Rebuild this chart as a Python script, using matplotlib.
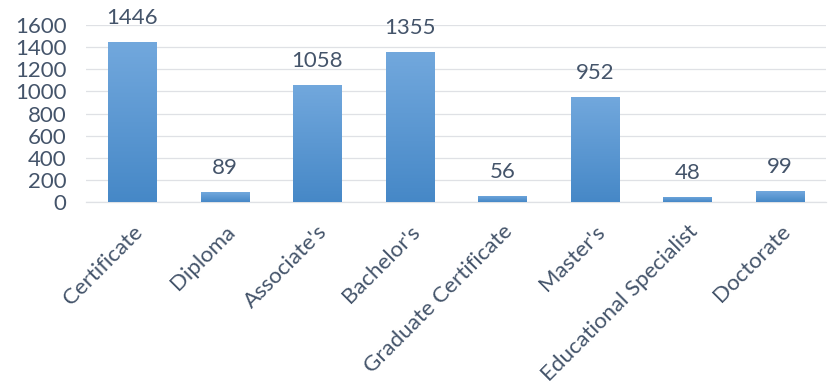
import matplotlib.pyplot as plt
import numpy as np
from matplotlib.colors import LinearSegmentedColormap

categories = ["Certificate", "Diploma", "Associate's", "Bachelor's",
              "Graduate Certificate", "Master's", "Educational Specialist", "Doctorate"]
counts = [1446, 89, 1058, 1355, 56, 952, 48, 99]

TEXT = "#44546a"
plt.rcParams["font.family"] = ["Lato", "DejaVu Sans"]

fig = plt.figure(figsize=(8.31, 3.84), dpi=100)
ax = fig.add_axes([86 / 831, 1 - 202 / 384, 740 / 831, 177 / 384])

x = np.arange(len(categories))
bars = ax.bar(x, counts, width=0.52, color="none", zorder=3)

# vertical gradient inside every bar, light at top and darker at bottom
cmap = LinearSegmentedColormap.from_list("bar", ["#4688c7", "#72a8dd"])
grad = np.linspace(0, 1, 256).reshape(-1, 1)
for b in bars:
    x0, y0, w, h = b.get_x(), b.get_y(), b.get_width(), b.get_height()
    im = ax.imshow(grad, cmap=cmap, origin="lower", aspect="auto",
                   extent=(x0, x0 + w, y0, y0 + h), zorder=3)
    im.set_clip_path(b)

for xi, v in zip(x, counts):
    ax.annotate(str(v), (xi, v), xytext=(0, 10), textcoords="offset points",
                ha="center", va="bottom", fontsize=16, color=TEXT)

ax.set_xlim(-0.5, len(categories) - 0.5)
ax.set_ylim(0, 1600)
ax.set_yticks(range(0, 1601, 200))
ax.yaxis.grid(True, color="#dfe1e5", linewidth=0.9, zorder=0)
ax.set_axisbelow(True)

ax.set_xticks(x)
ax.set_xticklabels(categories, rotation=45, ha="right", rotation_mode="anchor")
ax.tick_params(axis="both", length=0, labelsize=16, labelcolor=TEXT)
ax.tick_params(axis="x", pad=14)
ax.tick_params(axis="y", pad=14)

for s in ["top", "right", "left"]:
    ax.spines[s].set_visible(False)
ax.spines["bottom"].set_color("#dfe1e5")
ax.spines["bottom"].set_linewidth(0.9)

fig.savefig("out.png", dpi=100)
